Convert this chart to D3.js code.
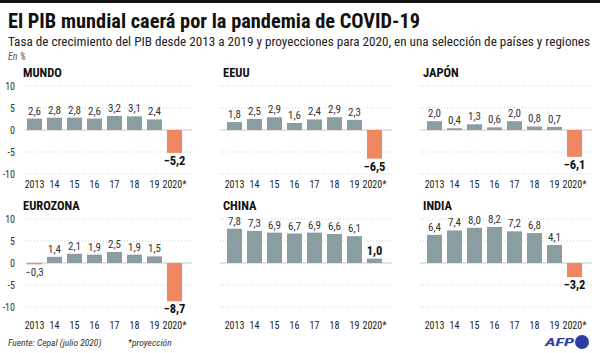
<html>
<head>
  <meta charset="utf-8" />
  <script src="https://cdnjs.cloudflare.com/ajax/libs/d3/7.8.5/d3.min.js"></script>
  <style>
    body { margin: 0; background: #fff; }
    svg { display: block; }
    text { font-family: "Liberation Sans Narrow", "Roboto Condensed", Roboto, sans-serif; }
  </style>
</head>
<body>
  <svg></svg>
  <script>
    var years = ["2013", "14", "15", "16", "17", "18", "19", "2020*"]
    var regions = ["MUNDO", "EEUU", "JAPÓN", "EUROZONA", "CHINA", "INDIA"]
    var mundo = [2.6, 2.8, 2.8, 2.6, 3.2, 3.1, 2.4, -5.2]
    var eeuu = [1.8, 2.5, 2.9, 1.6, 2.4, 2.9, 2.3, -6.5]
    var japon = [2.0, 0.4, 1.3, 0.6, 2.0, 0.8, 0.7, -6.1]
    var eurozona = [-0.3, 1.4, 2.1, 1.9, 2.5, 1.9, 1.5, -8.7]
    var china = [7.8, 7.3, 6.9, 6.7, 6.9, 6.6, 6.1, 1.0]
    var india = [6.4, 7.4, 8.0, 8.2, 7.2, 6.8, 4.1, -3.2]
    var series = [mundo, eeuu, japon, eurozona, china, india]
    var yTicks = [10, 5, 0, -5, -10]

    var W = 600, H = 353
    var svg = d3.select("svg").attr("width", W).attr("height", H)

    svg.append("rect").attr("x", 0).attr("y", 0).attr("width", W).attr("height", 3).attr("fill", "#111")

    svg.append("text").attr("x", 8).attr("y", 28)
      .attr("textLength", 412).attr("lengthAdjust", "spacingAndGlyphs")
      .style("font-size", "21px").style("font-weight", "bold").attr("fill", "#111")
      .text("El PIB mundial caerá por la pandemia de COVID-19")
    svg.append("text").attr("x", 8).attr("y", 46)
      .attr("textLength", 582).attr("lengthAdjust", "spacingAndGlyphs")
      .style("font-size", "12.5px").attr("fill", "#222")
      .text("Tasa de crecimiento del PIB desde 2013 a 2019 y proyecciones para 2020, en una selección de países y regiones")
    svg.append("text").attr("x", 8).attr("y", 60)
      .style("font-size", "10px").style("font-style", "italic").attr("fill", "#555")
      .text("En %")

    var fmt = v => d3.format(".1f")(v).replace(".", ",")
    var colX = [0, 200, 400]
    var rowY = [{ top: 86, bottom: 174, years: 188 }, { top: 219, bottom: 307, years: 329 }]

    regions.forEach(function(name, k) {
      var px = colX[k % 3], row = rowY[Math.floor(k / 3)]
      var values = series[k]
      var g = svg.append("g")

      var x = d3.scaleBand().domain(years).range([px + 24.5, px + 184.5])
        .paddingInner(0.25).paddingOuter(0.125)
      var y = d3.scaleLinear().domain([-10, 10]).range([row.bottom, row.top])

      g.selectAll("line.grid").data(yTicks).enter().append("line")
        .attr("class", "grid")
        .attr("x1", k % 3 == 0 ? px + 25 : px + 20).attr("x2", px + 192)
        .attr("y1", d => y(d)).attr("y2", d => y(d))
        .attr("stroke", d => d == 0 ? "#c8c8c8" : "#cfcfcf")
        .attr("stroke-width", 1)
        .attr("stroke-dasharray", d => d == 0 ? null : "1,2")

      if (k % 3 == 0) {
        g.selectAll("text.ytick").data(yTicks).enter().append("text")
          .attr("class", "ytick")
          .attr("x", px + 15).attr("y", d => y(d) + 3.5)
          .attr("text-anchor", "end")
          .style("font-size", "10px").attr("fill", "#333")
          .text(d => d)
      }

      g.append("text").attr("x", px + 23).attr("y", row.top - 9)
        .style("font-size", "12.5px").style("font-weight", "bold").attr("fill", "#111")
        .text(name)

      g.selectAll("rect").data(values).enter().append("rect")
        .attr("x", (d, i) => x(years[i]))
        .attr("width", x.bandwidth())
        .attr("y", d => y(Math.max(0, d)))
        .attr("height", d => Math.abs(y(d) - y(0)))
        .attr("fill", d => d < 0 ? "#ef8762" : "#8a9ea2")

      g.selectAll("text.val").data(values).enter().append("text")
        .attr("class", "val")
        .attr("x", (d, i) => x(years[i]) + x.bandwidth() / 2)
        .attr("y", d => d < 0 ? y(d) + 12 : y(d) - 4)
        .attr("text-anchor", "middle")
        .style("font-size", (d, i) => i == 7 ? "12.5px" : "11px")
        .style("font-weight", (d, i) => i == 7 ? "bold" : "normal")
        .attr("fill", (d, i) => i == 7 ? "#111" : "#333")
        .text(d => fmt(d))

      g.selectAll("text.year").data(years).enter().append("text")
        .attr("class", "year")
        .attr("x", d => x(d) + x.bandwidth() / 2)
        .attr("y", row.years)
        .attr("text-anchor", "middle")
        .style("font-size", "10px").attr("fill", "#222")
        .text(d => d)
    })

    svg.append("text").attr("x", 8).attr("y", 346)
      .style("font-size", "9.5px").style("font-style", "italic").attr("fill", "#333")
      .text("Fuente: Cepal (julio 2020)")
    svg.append("text").attr("x", 128).attr("y", 346)
      .style("font-size", "9.5px").style("font-style", "italic").attr("fill", "#333")
      .text("*proyección")

    svg.append("text").attr("x", 545).attr("y", 346)
      .attr("textLength", 29).attr("lengthAdjust", "spacingAndGlyphs")
      .style("font-size", "11px").style("font-weight", "bold").style("font-style", "italic")
      .attr("fill", "#2f3fa0").text("AFP")
    svg.append("circle").attr("cx", 582).attr("cy", 342).attr("r", 7).attr("fill", "#2f3fa0")
  </script>
</body>
</html>
